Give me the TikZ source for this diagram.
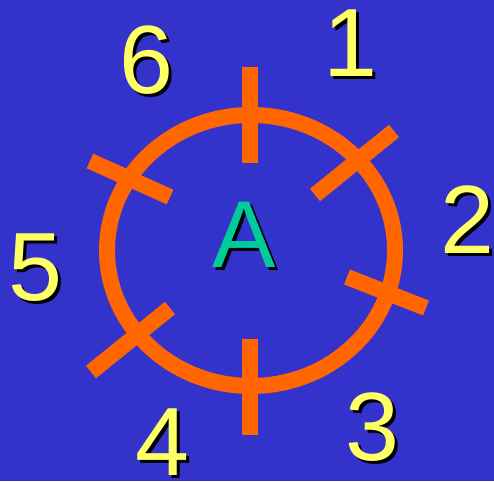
\documentclass[tikz,border=0pt]{standalone}
\usepackage{fontspec}
\setmainfont{Liberation Sans}
\definecolor{bgblue}{HTML}{3333CC}
\definecolor{ring}{HTML}{FF6600}
\definecolor{numyellow}{HTML}{FFFF66}
\definecolor{letterteal}{HTML}{00CC99}
\tikzset{
  ringline/.style={draw=ring, line width=16pt, line cap=butt},
  numlabel/.style={inner sep=0pt, font=\fontsize{97}{97}\selectfont, text=numyellow},
  shadowlabel/.style={inner sep=0pt, font=\fontsize{97}{97}\selectfont, text=black},
}
\newcommand{\shlabel}[4]{%
  \node[shadowlabel] (#1s) at (#2+3,#3-3) {#4};
  \node[numlabel] (#1) at (#2,#3) {#4};
}
\begin{document}
\begin{tikzpicture}[x=1pt,y=1pt]
\fill[bgblue] (0,0) rectangle (494,481);
\useasboundingbox (0,0) rectangle (494,481);
% ring
\draw[ringline] (251,230.5) ellipse [x radius=144, y radius=135.5];
% ticks
\draw[ringline] (250,414) -- (250,318);
\draw[ringline] (250,142) -- (250,46);
\draw[ringline] (315,286) -- (394,350);
\draw[ringline] (347,204) -- (426,173);
\draw[ringline] (170,173) -- (91,109);
\draw[ringline] (90,320) -- (170,284);
% labels
\shlabel{n1}{350}{438}{1}
\shlabel{n2}{467}{261}{2}
\shlabel{n3}{372}{54}{3}
\shlabel{n4}{162}{39}{4}
\shlabel{n5}{35}{213}{5}
\shlabel{n6}{146}{421}{6}
\node[shadowlabel, font=\fontsize{95}{95}\selectfont] (as) at (247,243) {A};
\node[numlabel, text=letterteal, font=\fontsize{95}{95}\selectfont] (a) at (244,246) {A};
\end{tikzpicture}
\end{document}
